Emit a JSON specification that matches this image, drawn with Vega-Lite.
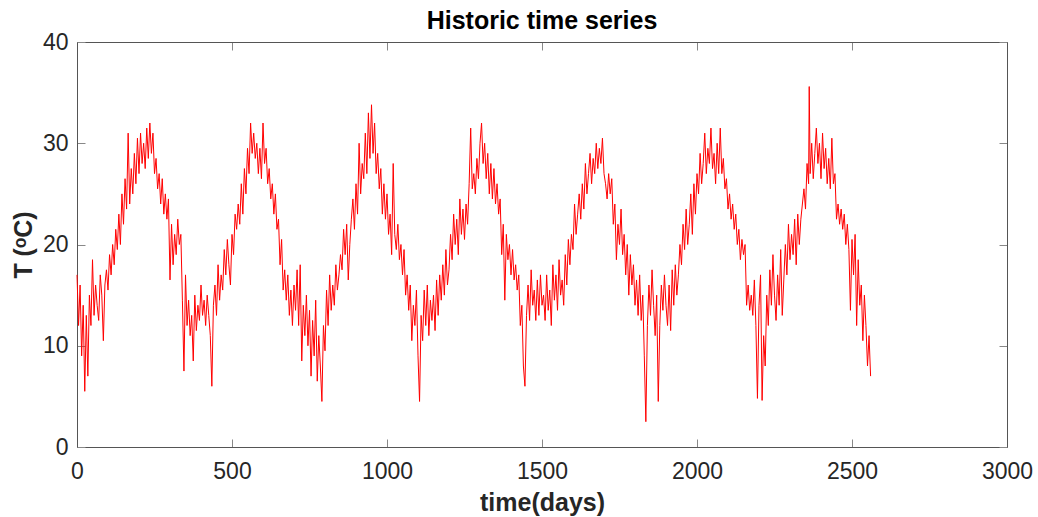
{
  "$schema": "https://vega.github.io/schema/vega-lite/v6.json",
  "width": 930,
  "height": 405,
  "autosize": {"type": "none"},
  "padding": {"left": 77, "top": 42, "right": 31, "bottom": 70},
  "config": {
    "font": "Liberation Sans",
    "view": {"stroke": null},
    "axis": {"grid": false}
  },
  "title": {
    "text": "Historic time series",
    "fontSize": 25,
    "fontWeight": "bold",
    "color": "#000000",
    "offset": -3,
    "anchor": "middle"
  },
  "data": {"values": [
{"d":0,"t":17},{"d":5,"t":12},{"d":10,"t":16},{"d":15,"t":9},{"d":20,"t":14},{"d":25,"t":5.5},{"d":30,"t":13},{"d":35,"t":7},{"d":40,"t":15},{"d":45,"t":12},
{"d":50,"t":18.5},{"d":55,"t":13},{"d":60,"t":16},{"d":65,"t":14},{"d":70,"t":12.5},{"d":75,"t":17},{"d":80,"t":15},{"d":85,"t":10.5},{"d":90,"t":16},{"d":95,"t":17.5},
{"d":100,"t":15.5},{"d":105,"t":19},{"d":110,"t":17},{"d":115,"t":20},{"d":120,"t":18},{"d":125,"t":21.5},{"d":130,"t":19.5},{"d":135,"t":23},{"d":140,"t":20},{"d":145,"t":25},
{"d":150,"t":22},{"d":155,"t":26.5},{"d":160,"t":23.5},{"d":165,"t":31},{"d":170,"t":24},{"d":175,"t":27.5},{"d":180,"t":25},{"d":185,"t":29},{"d":190,"t":26},{"d":195,"t":30.5},
{"d":200,"t":27},{"d":205,"t":31},{"d":210,"t":28},{"d":215,"t":30},{"d":220,"t":27.5},{"d":225,"t":31.5},{"d":230,"t":28.5},{"d":235,"t":32},{"d":240,"t":29},{"d":245,"t":31},
{"d":250,"t":27},{"d":255,"t":28.5},{"d":260,"t":25.5},{"d":265,"t":27},{"d":270,"t":24},{"d":275,"t":26.5},{"d":280,"t":23},{"d":285,"t":25},{"d":290,"t":22.5},{"d":295,"t":24.5},
{"d":300,"t":16.5},{"d":305,"t":22},{"d":310,"t":18},{"d":315,"t":21},{"d":320,"t":19},{"d":325,"t":22.5},{"d":330,"t":20},{"d":335,"t":21},{"d":340,"t":14.5},{"d":345,"t":7.5},
{"d":350,"t":17},{"d":355,"t":12},{"d":360,"t":14.5},{"d":365,"t":11},{"d":370,"t":13},{"d":375,"t":8.5},{"d":380,"t":15},{"d":385,"t":11.5},{"d":390,"t":14},{"d":395,"t":12.5},
{"d":400,"t":16},{"d":405,"t":13},{"d":410,"t":14.5},{"d":415,"t":12},{"d":420,"t":15},{"d":425,"t":13},{"d":430,"t":11},{"d":435,"t":6},{"d":440,"t":14},{"d":445,"t":16},
{"d":450,"t":13},{"d":455,"t":18},{"d":460,"t":14.5},{"d":465,"t":17},{"d":470,"t":15.5},{"d":475,"t":19.5},{"d":480,"t":17},{"d":485,"t":20.5},{"d":490,"t":18},{"d":495,"t":16},
{"d":500,"t":21},{"d":505,"t":19},{"d":510,"t":23},{"d":515,"t":21.5},{"d":520,"t":24},{"d":525,"t":22},{"d":530,"t":26},{"d":535,"t":23},{"d":540,"t":27.5},{"d":545,"t":25},
{"d":550,"t":29.5},{"d":555,"t":27},{"d":560,"t":32},{"d":565,"t":29},{"d":570,"t":31},{"d":575,"t":28.5},{"d":580,"t":30},{"d":585,"t":27},{"d":590,"t":29.5},{"d":595,"t":26.5},
{"d":600,"t":32},{"d":605,"t":28},{"d":610,"t":29.5},{"d":615,"t":26},{"d":620,"t":27.5},{"d":625,"t":24.5},{"d":630,"t":26},{"d":635,"t":23},{"d":640,"t":25},{"d":645,"t":21.5},
{"d":650,"t":22.5},{"d":655,"t":18},{"d":660,"t":20.5},{"d":665,"t":15.5},{"d":670,"t":17.5},{"d":675,"t":14.5},{"d":680,"t":17},{"d":685,"t":13},{"d":690,"t":15.5},{"d":695,"t":12},
{"d":700,"t":16},{"d":705,"t":13.5},{"d":710,"t":17.5},{"d":715,"t":12},{"d":720,"t":18},{"d":725,"t":8.5},{"d":730,"t":14},{"d":735,"t":11},{"d":740,"t":15},{"d":745,"t":10},
{"d":750,"t":13.5},{"d":755,"t":7},{"d":760,"t":12.5},{"d":765,"t":9},{"d":770,"t":14.5},{"d":775,"t":6.5},{"d":780,"t":11},{"d":785,"t":8},{"d":790,"t":4.5},{"d":795,"t":12},
{"d":800,"t":9.5},{"d":805,"t":15.5},{"d":810,"t":12},{"d":815,"t":17},{"d":820,"t":13.5},{"d":825,"t":16},{"d":830,"t":14},{"d":835,"t":18},{"d":840,"t":15.5},{"d":845,"t":17},
{"d":850,"t":19},{"d":855,"t":17.5},{"d":860,"t":21.5},{"d":865,"t":19},{"d":870,"t":22},{"d":875,"t":16.5},{"d":880,"t":20},{"d":885,"t":22.5},{"d":890,"t":24.5},{"d":895,"t":21.5},
{"d":900,"t":26},{"d":905,"t":23},{"d":910,"t":30},{"d":915,"t":25},{"d":920,"t":28},{"d":925,"t":26.5},{"d":930,"t":31},{"d":935,"t":27},{"d":940,"t":33},{"d":945,"t":28.5},
{"d":950,"t":33.8},{"d":955,"t":29},{"d":960,"t":32},{"d":965,"t":27},{"d":970,"t":29},{"d":975,"t":25.5},{"d":980,"t":27.5},{"d":985,"t":23},{"d":990,"t":26},{"d":995,"t":22.5},
{"d":1000,"t":25},{"d":1005,"t":21},{"d":1010,"t":23},{"d":1015,"t":19},{"d":1020,"t":28},{"d":1025,"t":21},{"d":1030,"t":19.5},{"d":1035,"t":22},{"d":1040,"t":18.5},{"d":1045,"t":20},
{"d":1050,"t":17},{"d":1055,"t":19.5},{"d":1060,"t":15},{"d":1065,"t":17},{"d":1070,"t":13.5},{"d":1075,"t":16},{"d":1080,"t":10.5},{"d":1085,"t":14},{"d":1090,"t":12},{"d":1095,"t":15.5},
{"d":1100,"t":9},{"d":1105,"t":4.5},{"d":1110,"t":13},{"d":1115,"t":10.5},{"d":1120,"t":15.5},{"d":1125,"t":12},{"d":1130,"t":16},{"d":1135,"t":11},{"d":1140,"t":14.5},{"d":1145,"t":12.5},
{"d":1150,"t":15},{"d":1155,"t":11.5},{"d":1160,"t":16.5},{"d":1165,"t":13},{"d":1170,"t":17},{"d":1175,"t":14.5},{"d":1180,"t":18},{"d":1185,"t":15},{"d":1190,"t":19.5},{"d":1195,"t":16},
{"d":1200,"t":17.5},{"d":1205,"t":21},{"d":1210,"t":18.5},{"d":1215,"t":23},{"d":1220,"t":20},{"d":1225,"t":22.5},{"d":1230,"t":19},{"d":1235,"t":24.5},{"d":1240,"t":21},{"d":1245,"t":23.5},
{"d":1250,"t":20.5},{"d":1255,"t":24},{"d":1260,"t":22},{"d":1265,"t":26},{"d":1270,"t":31.5},{"d":1275,"t":25.5},{"d":1280,"t":27},{"d":1285,"t":25},{"d":1290,"t":28.5},{"d":1295,"t":26.5},
{"d":1300,"t":30},{"d":1305,"t":32},{"d":1310,"t":28},{"d":1315,"t":30},{"d":1320,"t":26.5},{"d":1325,"t":29},{"d":1330,"t":25},{"d":1335,"t":28},{"d":1340,"t":24.5},{"d":1345,"t":27.5},
{"d":1350,"t":24},{"d":1355,"t":26},{"d":1360,"t":23},{"d":1365,"t":24.5},{"d":1370,"t":19},{"d":1375,"t":22},{"d":1380,"t":14.5},{"d":1385,"t":21},{"d":1390,"t":18.5},{"d":1395,"t":20},
{"d":1400,"t":17},{"d":1405,"t":19.5},{"d":1410,"t":16.5},{"d":1415,"t":18},{"d":1420,"t":15.5},{"d":1425,"t":17},{"d":1430,"t":12},{"d":1435,"t":14},{"d":1440,"t":8},{"d":1445,"t":6},
{"d":1450,"t":13},{"d":1455,"t":16},{"d":1460,"t":12.5},{"d":1465,"t":17.5},{"d":1470,"t":14},{"d":1475,"t":15.5},{"d":1480,"t":12.5},{"d":1485,"t":16.5},{"d":1490,"t":13},{"d":1495,"t":17},
{"d":1500,"t":14},{"d":1505,"t":15},{"d":1510,"t":12.5},{"d":1515,"t":17},{"d":1520,"t":13.5},{"d":1525,"t":15.5},{"d":1530,"t":12},{"d":1535,"t":18},{"d":1540,"t":14.5},{"d":1545,"t":17},
{"d":1550,"t":13.5},{"d":1555,"t":18.5},{"d":1560,"t":15},{"d":1565,"t":16.5},{"d":1570,"t":14},{"d":1575,"t":19},{"d":1580,"t":16},{"d":1585,"t":20.5},{"d":1590,"t":18},{"d":1595,"t":21},
{"d":1600,"t":19.5},{"d":1605,"t":24},{"d":1610,"t":21},{"d":1615,"t":23},{"d":1620,"t":25},{"d":1625,"t":22.5},{"d":1630,"t":26},{"d":1635,"t":23.5},{"d":1640,"t":28},{"d":1645,"t":25},
{"d":1650,"t":27},{"d":1655,"t":29},{"d":1660,"t":26},{"d":1665,"t":28.5},{"d":1670,"t":27},{"d":1675,"t":30},{"d":1680,"t":27.5},{"d":1685,"t":29.5},{"d":1690,"t":28},{"d":1695,"t":30.5},
{"d":1700,"t":27},{"d":1705,"t":26},{"d":1710,"t":24.5},{"d":1715,"t":27},{"d":1720,"t":25},{"d":1725,"t":26.5},{"d":1730,"t":22},{"d":1735,"t":24},{"d":1740,"t":18.5},{"d":1745,"t":22},
{"d":1750,"t":20},{"d":1755,"t":23.5},{"d":1760,"t":19},{"d":1765,"t":21},{"d":1770,"t":17},{"d":1775,"t":20},{"d":1780,"t":15},{"d":1785,"t":19},{"d":1790,"t":16},{"d":1795,"t":18},
{"d":1800,"t":14},{"d":1805,"t":16.5},{"d":1810,"t":13},{"d":1815,"t":17},{"d":1820,"t":12.5},{"d":1825,"t":15},{"d":1830,"t":9},{"d":1835,"t":2.5},{"d":1840,"t":12},{"d":1845,"t":16},
{"d":1850,"t":13},{"d":1855,"t":17.5},{"d":1860,"t":14},{"d":1865,"t":11},{"d":1870,"t":15},{"d":1875,"t":4.5},{"d":1880,"t":12},{"d":1885,"t":16},{"d":1890,"t":13.5},{"d":1895,"t":17},
{"d":1900,"t":14},{"d":1905,"t":12},{"d":1910,"t":16},{"d":1915,"t":11.5},{"d":1920,"t":17.5},{"d":1925,"t":14},{"d":1930,"t":18},{"d":1935,"t":15},{"d":1940,"t":17},{"d":1945,"t":20},
{"d":1950,"t":18},{"d":1955,"t":22},{"d":1960,"t":19.5},{"d":1965,"t":23.5},{"d":1970,"t":20},{"d":1975,"t":22},{"d":1980,"t":25},{"d":1985,"t":21},{"d":1990,"t":26},{"d":1995,"t":23},
{"d":2000,"t":27},{"d":2005,"t":25},{"d":2010,"t":29},{"d":2015,"t":26},{"d":2020,"t":28},{"d":2025,"t":31},{"d":2030,"t":27},{"d":2035,"t":29.5},{"d":2040,"t":28},{"d":2045,"t":31.5},
{"d":2050,"t":27.5},{"d":2055,"t":29},{"d":2060,"t":26},{"d":2065,"t":30},{"d":2070,"t":27},{"d":2075,"t":31.5},{"d":2080,"t":27},{"d":2085,"t":28.5},{"d":2090,"t":25.5},{"d":2095,"t":26.5},
{"d":2100,"t":23.5},{"d":2105,"t":25},{"d":2110,"t":22.5},{"d":2115,"t":24},{"d":2120,"t":21.5},{"d":2125,"t":23},{"d":2130,"t":20},{"d":2135,"t":21.5},{"d":2140,"t":18.5},{"d":2145,"t":20.5},
{"d":2150,"t":19},{"d":2155,"t":20},{"d":2160,"t":14},{"d":2165,"t":16},{"d":2170,"t":13.5},{"d":2175,"t":15},{"d":2180,"t":13},{"d":2185,"t":16.5},{"d":2190,"t":12},{"d":2195,"t":4.8},
{"d":2200,"t":14},{"d":2205,"t":17},{"d":2210,"t":4.6},{"d":2215,"t":11},{"d":2220,"t":8},{"d":2225,"t":15},{"d":2230,"t":12},{"d":2235,"t":17.5},{"d":2240,"t":14},{"d":2245,"t":19},
{"d":2250,"t":15},{"d":2255,"t":12.5},{"d":2260,"t":17},{"d":2265,"t":14},{"d":2270,"t":19.5},{"d":2275,"t":13},{"d":2280,"t":16.5},{"d":2285,"t":20},{"d":2290,"t":17},{"d":2295,"t":22},
{"d":2300,"t":18.5},{"d":2305,"t":21},{"d":2310,"t":19},{"d":2315,"t":22.5},{"d":2320,"t":18},{"d":2325,"t":23},{"d":2330,"t":20},{"d":2335,"t":22.5},{"d":2340,"t":24},{"d":2345,"t":25.5},
{"d":2350,"t":23.5},{"d":2355,"t":28},{"d":2360,"t":26},{"d":2362,"t":35.6},{"d":2365,"t":27},{"d":2370,"t":30},{"d":2375,"t":26.5},{"d":2380,"t":29},{"d":2385,"t":31.5},{"d":2390,"t":28},
{"d":2395,"t":30},{"d":2400,"t":26.5},{"d":2405,"t":31},{"d":2410,"t":27.5},{"d":2415,"t":29.5},{"d":2420,"t":26},{"d":2425,"t":28.5},{"d":2430,"t":25.5},{"d":2435,"t":30.5},{"d":2440,"t":26},
{"d":2445,"t":27},{"d":2450,"t":22.5},{"d":2455,"t":24},{"d":2460,"t":22},{"d":2465,"t":23.5},{"d":2470,"t":21.5},{"d":2475,"t":23},{"d":2480,"t":20},{"d":2485,"t":22},{"d":2490,"t":19.5},
{"d":2495,"t":13.5},{"d":2500,"t":20.5},{"d":2505,"t":17},{"d":2510,"t":21},{"d":2515,"t":12},{"d":2520,"t":18.5},{"d":2525,"t":14},{"d":2530,"t":16},{"d":2535,"t":10.5},{"d":2540,"t":15},
{"d":2545,"t":12},{"d":2550,"t":8},{"d":2555,"t":11},{"d":2560,"t":7}
  ]},
  "layer": [
    {
      "mark": {"type": "line", "color": "#ff0000", "strokeWidth": 1},
      "encoding": {
        "x": {
          "field": "d", "type": "quantitative",
          "scale": {"domain": [0, 3000], "nice": false, "zero": false},
          "axis": {
            "title": "time(days)", "values": [0, 500, 1000, 1500, 2000, 2500, 3000], "format": "d",
            "orient": "bottom", "tickSize": -8, "labelPadding": 21,
            "labelFontSize": 23, "labelColor": "#262626", "labelFlush": false,
            "domainColor": "#555555", "tickColor": "#888888",
            "titleFontSize": 25, "titleFontWeight": "bold", "titleColor": "#262626", "titlePadding": 7
          }
        },
        "y": {
          "field": "t", "type": "quantitative",
          "scale": {"domain": [0, 40], "nice": false, "zero": false},
          "axis": {
            "title": "T (ᵒC)", "values": [0, 10, 20, 30, 40], "format": "d",
            "orient": "left", "tickSize": -8, "labelPadding": 17,
            "labelFontSize": 23, "labelColor": "#262626", "labelFlush": false,
            "domainColor": "#555555", "tickColor": "#888888",
            "titleFontSize": 25, "titleFontWeight": "bold", "titleColor": "#262626", "titlePadding": 6
          }
        }
      }
    },
    {
      "mark": {"type": "line", "opacity": 0},
      "encoding": {
        "x": {
          "field": "d", "type": "quantitative",
          "scale": {"domain": [0, 3000], "nice": false, "zero": false},
          "axis": {
            "title": null, "values": [0, 500, 1000, 1500, 2000, 2500, 3000],
            "orient": "top", "tickSize": -8, "labels": false,
            "domainColor": "#555555", "tickColor": "#888888"
          }
        },
        "y": {
          "field": "t", "type": "quantitative",
          "scale": {"domain": [0, 40], "nice": false, "zero": false},
          "axis": {
            "title": null, "values": [0, 10, 20, 30, 40],
            "orient": "right", "tickSize": -8, "labels": false,
            "domainColor": "#555555", "tickColor": "#888888"
          }
        }
      }
    }
  ],
  "resolve": {"axis": {"x": "independent", "y": "independent"}}
}
